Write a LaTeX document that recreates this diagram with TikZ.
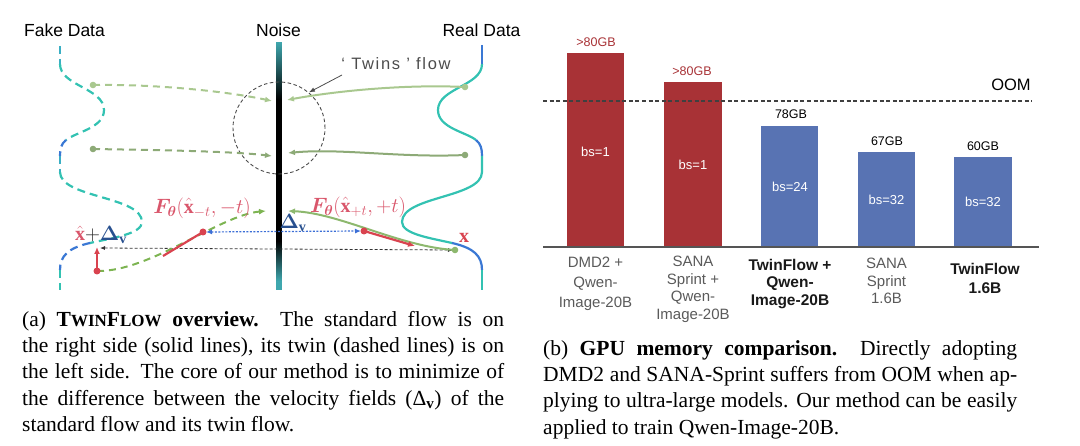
\documentclass[tikz,border=0pt]{standalone}
\usepackage{amsmath}
\usepackage{bm}
\usepackage{fontspec}
\setmainfont{Liberation Serif}
\setsansfont{Liberation Sans}
\usetikzlibrary{arrows.meta,calc}
\definecolor{nteal}{HTML}{3FA7AE}
\definecolor{cteal}{HTML}{33C2B2}
\definecolor{cteal2}{HTML}{3AAFC4}
\definecolor{cblue}{HTML}{3A78D4}
\definecolor{glight}{HTML}{A9C88F}
\definecolor{gmid}{HTML}{8DAA77}
\definecolor{gdash}{HTML}{7DB452}
\definecolor{gsolid}{HTML}{8DB86E}
\definecolor{fred}{HTML}{D9434F}
\definecolor{lred}{HTML}{D9566B}
\definecolor{dblue}{HTML}{28508F}
\definecolor{dotblue}{HTML}{3C6FD6}
\definecolor{barred}{HTML}{A83236}
\definecolor{barblue}{HTML}{5873B3}
\definecolor{lblgray}{HTML}{5A5A5A}
\definecolor{axgray}{HTML}{555555}
\newcommand\fsz[2]{\fontsize{#1}{#2}\selectfont}
\begin{document}
\begin{tikzpicture}[x=1pt,y=-1pt,
  ttl/.style={font=\sffamily\fsz{17.5}{20}, inner sep=0},
  fdash/.style={line width=2.2pt, dash pattern=on 8pt off 5pt},
  rsolid/.style={line width=2.2pt},
  arrtip/.style={-{Latex[length=7pt,width=6pt]}},
  garrow/.style={line width=2pt, arrtip},
  gdashed/.style={line width=2pt, dash pattern=on 7pt off 5pt, arrtip},
  mathlbl/.style={inner sep=0, font=\fsz{20}{24}},
  barlbl/.style={font=\sffamily\fsz{12.5}{14}, inner sep=0},
  bslbl/.style={font=\sffamily\fsz{13}{15}, inner sep=0, text=white},
  xlbl/.style={font=\sffamily\fsz{15}{#1}, inner sep=0, align=center, text=lblgray, anchor=north},
  xlblb/.style={font=\sffamily\bfseries\fsz{15.5}{#1}, inner sep=0, align=center, text=black!90, anchor=north},
  captxt/.style={inner sep=0, anchor=north west, align=justify, font=\rmfamily\fsz{21.5}{26.3}}
]
\useasboundingbox (0,0) rectangle (1080,446);

% ---------- titles ----------
\node[ttl] (tfake) at (64.5,30) {Fake Data};
\node[ttl] (tnoise) at (278.5,30) {Noise};
\node[ttl] (treal) at (481.5,30) {Real Data};

% ---------- noise bar ----------
\fill[black] (276,99) rectangle (282,243);
\foreach \i in {0,...,57}{
  \pgfmathsetmacro\p{100-\i*100/58}
  \fill[nteal!\p!black] (276,42+\i) rectangle (282,43.3+\i);
}
\foreach \i in {0,...,47}{
  \pgfmathsetmacro\p{min(100,(\i+1)*100/40)}
  \fill[nteal!\p!black] (276,242+\i) rectangle (282,243.3+\i);
}

% ---------- real data curve (solid) ----------
\draw[rsolid, cblue] (482,45) -- (482,64);
\draw[rsolid, cteal] (482,64) .. controls (482,86) and (438,88) .. (438,110)
   .. controls (438,128) and (466,132) .. (476,140);
\draw[rsolid, cblue] (476,140) .. controls (481,144) and (482,149) .. (482,156);
\draw[rsolid, cteal] (482,156) -- (482,172) .. controls (482,198) and (402,196) .. (402,222)
   .. controls (402,234) and (430,238) .. (452,243);
\draw[rsolid, cblue] (452,243) .. controls (474,248) and (482,256) .. (482,270);
\draw[rsolid, cteal] (482,270) -- (482,290);

% ---------- fake data curve (dashed) ----------
\draw[fdash, cteal2] (60,46) -- (60,64);
\draw[fdash, cteal] (60,64) .. controls (60,86) and (104,88) .. (104,110)
   .. controls (104,128) and (76,132) .. (66,140);
\draw[fdash, cblue] (66,140) .. controls (61,144) and (60,149) .. (60,156);
\draw[fdash, cteal2] (60,156) -- (60,172);
\draw[fdash, cteal] (60,172) .. controls (60,198) and (142,196) .. (142,222)
   .. controls (142,234) and (112,238) .. (90,243);
\draw[fdash, cblue] (90,243) .. controls (68,248) and (60,256) .. (60,270);
\draw[fdash, cteal] (60,270) -- (60,290);

% ---------- twins circle ----------
\node[draw=black!70, dash pattern=on 3.5pt off 2.5pt, line width=0.9pt, circle, minimum size=92pt, inner sep=0] (circ) at (279,128) {};
\node[font=\sffamily\fsz{16.5}{18}\addfontfeatures{LetterSpace=10}, text=black!70, inner sep=0] (twins) at (396,64) {‘ Twins ’ flow};
\coordinate (twa) at (342,75);
\draw[black!70, line width=0.8pt, -{Latex[length=6pt,width=4.5pt]}] (twa) -- (circ.50);

% ---------- coordinates ----------
\coordinate (s1) at (465,87);   \coordinate (e1) at (287,100);
\coordinate (s2) at (93,85);    \coordinate (e2) at (272,101);
\coordinate (s3) at (465,155);  \coordinate (e3) at (288,153);
\coordinate (s4) at (93,149);   \coordinate (e4) at (272,156);
\coordinate (s5) at (455,250);  \coordinate (e5) at (288,211);
\coordinate (s6) at (97,271);   \coordinate (e6) at (266,211);
\coordinate (rA) at (364,231);  \coordinate (rAe) at (415,246);
\coordinate (rB) at (203,232);  \coordinate (rBs) at (163,256);
\coordinate (up) at (97,247);
\coordinate (bL) at (100,248);  \coordinate (bR) at (453,250);
\coordinate (dL) at (206,232);  \coordinate (dR) at (361,231);

% ---------- green flows ----------
\draw[garrow, glight] (s1) .. controls (400,84) and (330,92) .. (e1);
\draw[gdashed, glight] (s2) .. controls (160,84) and (230,92) .. (e2);
\draw[garrow, gmid] (s3) .. controls (400,158) and (340,148) .. (e3);
\draw[gdashed, gmid] (s4) .. controls (150,150) and (230,151) .. (e4);

% black dashed double arrow
\draw[black!80, line width=0.8pt, dash pattern=on 3pt off 2pt, {Latex[length=5pt,width=4pt]}-{Latex[length=5pt,width=4pt]}] (bL) -- (bR);

\draw[garrow, gsolid] (s5) .. controls (400,247) and (340,213) .. (e5);
\draw[gdashed, gdash] (s6) .. controls (150,272) and (220,215) .. (e6);

% red velocity arrows
\draw[fred, line width=2.2pt, -{Latex[length=7pt,width=6pt]}] (rA) -- (rAe);
\draw[fred, line width=2.2pt] (rBs) -- (rB);
\draw[fred, line width=1.8pt, -{Latex[length=7pt,width=6pt]}] (s6) -- (up);

% blue dotted Delta arrow
\draw[dotblue, line width=1.2pt, dash pattern=on 2pt off 1.5pt, {Latex[length=6pt,width=5pt]}-{Latex[length=6pt,width=5pt]}] (dL) -- (dR);

% dots
\fill[glight] (s1) circle (3.3);
\fill[glight] (s2) circle (3.3);
\fill[gmid] (s3) circle (3.3);
\fill[gmid] (s4) circle (3.3);
\fill[gsolid] (s5) circle (3.3);
\fill[fred] (s6) circle (3.5);
\fill[fred] (rA) circle (3.5);
\fill[fred] (rB) circle (3.5);

% math labels
\node[mathlbl] (xhd) at (101,235) {$\color{lred}\hat{\mathbf{x}}\color{black!85}{+}\color{dblue}\bm{\Delta}_{\mathbf{v}}$};
\node[mathlbl, text=lred] (fneg) at (202,208) {$\bm{F}_{\bm{\theta}}(\hat{\mathbf{x}}_{-t},-t)$};
\node[mathlbl, text=lred] (fpos) at (358,207) {$\bm{F}_{\bm{\theta}}(\hat{\mathbf{x}}_{+t},+t)$};
\node[mathlbl, text=dblue] (dv) at (293,223) {$\bm{\Delta}_{\mathbf{v}}$};
\node[mathlbl, text=fred] (xr) at (464,238) {$\mathbf{x}$};

% ---------- bar chart ----------
\fill[barred] (567,53) rectangle (624,247);
\fill[barred] (664,82) rectangle (722,247);
\fill[barblue] (761,126) rectangle (818,247);
\fill[barblue] (858,152) rectangle (915,247);
\fill[barblue] (954,157) rectangle (1012,247);
\coordinate (axL) at (543,247); \coordinate (axR) at (1039,247);
\draw[axgray, line width=1.6pt] (axL) -- (axR);
\coordinate (oomL) at (543,101); \coordinate (oomR) at (1032,101);
\draw[black!75, line width=1.1pt, dash pattern=on 4pt off 2.6pt] (oomL) -- (oomR);
\node[font=\sffamily\fsz{16.5}{18}, inner sep=0] (oom) at (1011,85) {OOM};

\node[barlbl, text=barred] (v1) at (596,42.5) {>80GB};
\node[barlbl, text=barred] (v2) at (692,71) {>80GB};
\node[barlbl] (v3) at (791,114.5) {78GB};
\node[barlbl] (v4) at (887,141) {67GB};
\node[barlbl] (v5) at (983,146) {60GB};

\node[bslbl] (b1) at (595.5,152) {bs=1};
\node[bslbl] (b2) at (693,165) {bs=1};
\node[bslbl] (b3) at (790,187) {bs=24};
\node[bslbl] (b4) at (886.5,200) {bs=32};
\node[bslbl] (b5) at (983,202) {bs=32};

\node[xlbl=20] (l1) at (595.5,257) {DMD2 +\\Qwen-\\Image-20B};
\node[xlbl=17.5] (l2) at (693,256) {SANA\\Sprint +\\Qwen-\\Image-20B};
\node[xlblb=17.5] (l3) at (790,259) {TwinFlow +\\Qwen-\\Image-20B};
\node[xlbl=17.5] (l4) at (886.5,258) {SANA\\Sprint\\1.6B};
\node[xlblb=19] (l5) at (985,263) {TwinFlow\\1.6B};

% ---------- captions ----------
\node[captxt, text width=482pt] (capa) at (22,311) {(a) \textbf{T{\fsz{17}{26.3}WIN}F{\fsz{17}{26.3}LOW} overview.}\ \ The standard flow is on\linebreak the right side (solid lines), its twin (dashed lines) is on\linebreak the left side. The core of our method is to minimize of\linebreak the difference between the velocity fields (Δ$_{\mathbf{v}}$) of the\linebreak standard flow and its twin flow.};
\node[captxt, text width=474pt] (capb) at (543,340) {(b) \textbf{GPU memory comparison.}\ \ Directly adopting\linebreak DMD2 and SANA-Sprint suffers from OOM when ap-\linebreak plying to ultra-large models. Our method can be easily\linebreak applied to train Qwen-Image-20B.};
\end{tikzpicture}
\end{document}
